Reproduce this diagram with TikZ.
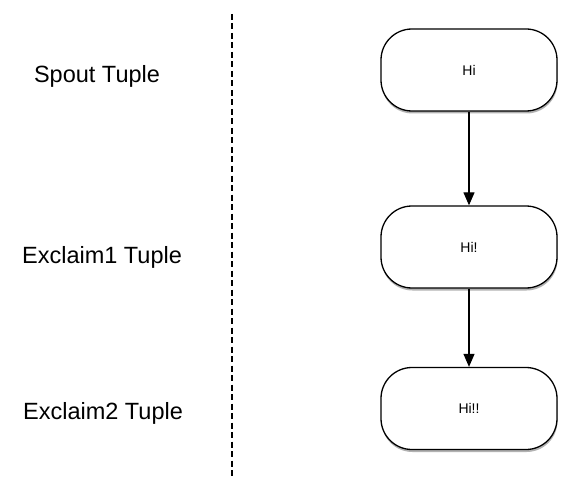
\documentclass[tikz,border=0pt]{standalone}
\usepackage{fontspec}
\setmainfont{Liberation Sans}
\usetikzlibrary{arrows.meta,shadows}
\begin{document}
\begin{tikzpicture}[x=1pt,y=-1pt,
  tuplebox/.style={draw, line width=1.3pt, fill=white, rounded corners=31pt,
    minimum width=176pt, minimum height=82pt, font=\fontsize{14}{16}\selectfont,
    drop shadow={shadow xshift=0.5pt, shadow yshift=-2.5pt, opacity=0.5, fill=black!60}},
  lbl/.style={font=\fontsize{23.5}{27}\selectfont},
  flow/.style={line width=1.2pt, -{Triangle[length=13pt,width=11pt]}},
  sep/.style={line width=1.2pt, dash pattern=on 6pt off 3.5pt}]
\useasboundingbox (0,0) rectangle (573,492);
\node[tuplebox] (n1) at (469,70) {Hi};
\node[tuplebox] (n2) at (469,247) {Hi!};
\node[tuplebox] (n3) at (469,408.5) {Hi!!};
\draw[flow] (n1) -- (n2);
\draw[flow] (n2) -- (n3);
\node[lbl] (l1) at (97,76) {Spout Tuple};
\node[lbl] (l2) at (102,257) {Exclaim1 Tuple};
\node[lbl] (l3) at (103,413) {Exclaim2 Tuple};
\coordinate (d1) at (232,14);
\coordinate (d2) at (232,476);
\draw[sep] (d1) -- (d2);
\end{tikzpicture}
\end{document}
